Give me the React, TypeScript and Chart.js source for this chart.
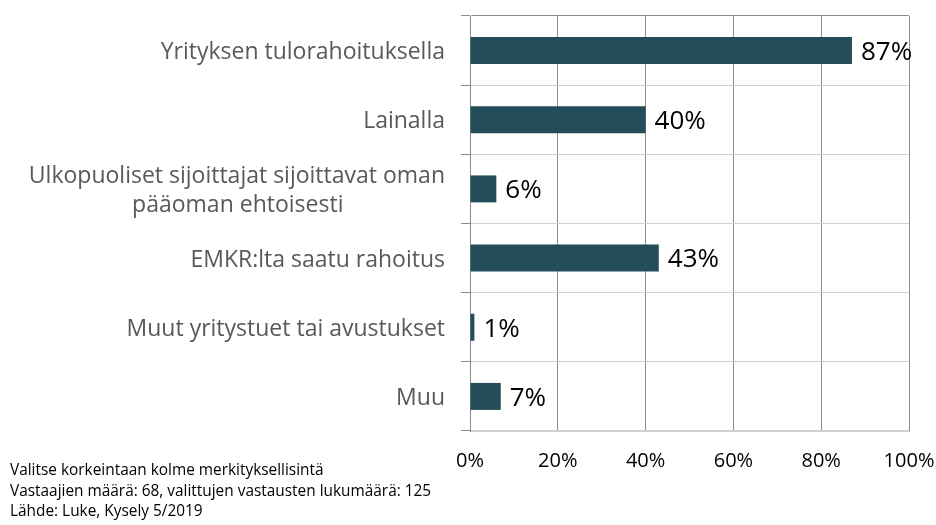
import React, { useEffect, useRef } from "react";
import { Chart, registerables } from "chart.js";

Chart.register(...registerables);

const categories: (string | string[])[] = [
  "Yrityksen tulorahoituksella",
  "Lainalla",
  ["Ulkopuoliset sijoittajat sijoittavat oman", "pääoman ehtoisesti                 "],
  "EMKR:lta saatu rahoitus",
  "Muut yritystuet tai avustukset",
  "Muu",
];
const values = [87, 40, 6, 43, 1, 7];
const xTicks = [0, 20, 40, 60, 80, 100];
const footnotes = [
  "Valitse korkeintaan kolme merkityksellisintä",
  "Vastaajien määrä: 68, valittujen vastausten lukumäärä: 125",
  "Lähde: Luke, Kysely 5/2019",
];

const FONT = "'Open Sans', sans-serif";
const BAR = "#244d5a";
const DARK = "#8c8c8c";
const LIGHT = "#d0d0d0";

const valueLabels = {
  id: "valueLabels",
  afterDatasetsDraw(chart: any) {
    const ctx = chart.ctx;
    const meta = chart.getDatasetMeta(0);
    ctx.save();
    ctx.font = `26px ${FONT}`;
    ctx.fillStyle = "#000";
    ctx.textAlign = "left";
    ctx.textBaseline = "middle";
    meta.data.forEach((bar: any, i: number) => {
      ctx.fillText(values[i] + "%", bar.x + 9, bar.y + 2);
    });
    ctx.restore();
  },
};

export default function App() {
  const ref = useRef<HTMLCanvasElement>(null);
  useEffect(() => {
    if (!ref.current) return;
    const chart = new Chart(ref.current, {
      type: "bar",
      data: {
        labels: categories,
        datasets: [
          {
            data: values,
            backgroundColor: BAR,
            barPercentage: 0.39,
            categoryPercentage: 1,
          },
        ],
      },
      plugins: [valueLabels],
      options: {
        indexAxis: "y",
        animation: false,
        responsive: true,
        maintainAspectRatio: false,
        layout: { padding: { top: 16, right: 27, left: 0, bottom: 0 } },
        plugins: { legend: { display: false }, tooltip: { enabled: false } },
        scales: {
          x: {
            min: 0,
            max: 100,
            afterBuildTicks: (scale: any) => {
              scale.ticks = xTicks.map((v) => ({ value: v }));
            },
            afterFit: (scale: any) => {
              scale.height = 94;
              scale.paddingLeft = 0;
              scale.paddingRight = 0;
            },
            ticks: {
              callback: (v: any) => v + "%",
              color: "#000",
              font: { family: FONT, size: 20 },
              padding: 18,
              maxRotation: 0,
            },
            grid: { color: DARK, drawTicks: false, lineWidth: 1 },
            border: { color: LIGHT },
          },
          y: {
            afterFit: (scale: any) => {
              scale.width = 470;
              scale.paddingTop = 0;
              scale.paddingBottom = 0;
            },
            ticks: {
              color: "#595959",
              font: { family: FONT, size: 23, lineHeight: 1.27 },
              padding: 16,
              labelOffset: 2,
            },
            grid: {
              offset: true,
              color: (c: any) => (c.index === 0 ? DARK : LIGHT),
              tickColor: DARK,
              tickLength: 9,
            },
            border: { color: DARK },
          },
        },
      },
    } as any);
    return () => chart.destroy();
  }, []);
  return (
    <div style={{ position: "fixed", left: 0, top: 0, width: 936, height: 525, background: "#fff" }}>
      <canvas ref={ref} />
      <div
        style={{
          position: "absolute",
          left: 10,
          top: 460,
          fontFamily: FONT,
          fontSize: 15.4,
          lineHeight: "20.5px",
          color: "#000",
          whiteSpace: "pre",
        }}
      >
        {footnotes.map((t, i) => (
          <div key={i}>{t}</div>
        ))}
      </div>
    </div>
  );
}
